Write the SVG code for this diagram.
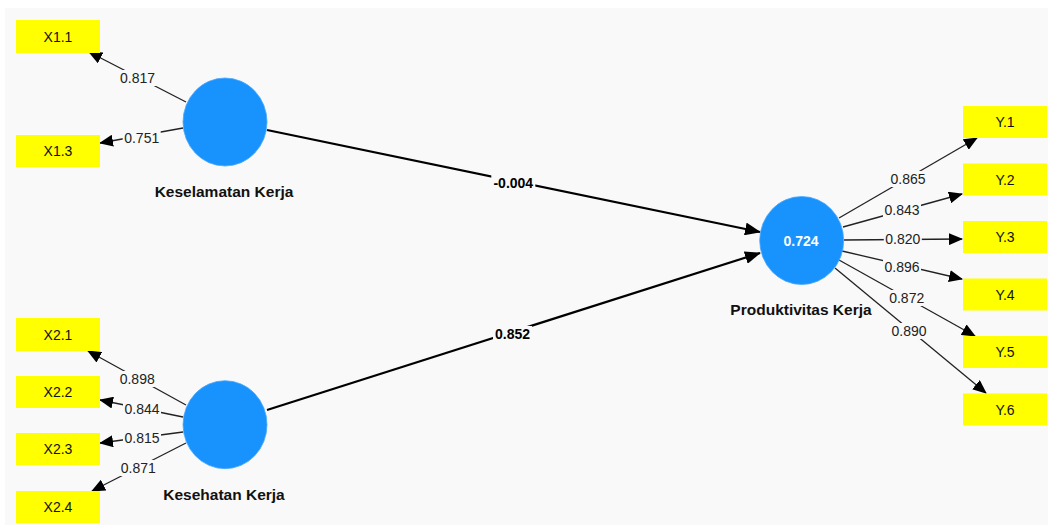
<svg xmlns="http://www.w3.org/2000/svg" width="1048" height="525" viewBox="0 0 1048 525">
<style>
.ind{fill:#ffff00}
.it{font-family:"Liberation Sans",Arial,sans-serif;font-size:14px;fill:#111;text-anchor:middle}
.lv{fill:#1892fc;stroke:#4aa8ff;stroke-width:0.8}
.ln{font-family:"Liberation Sans",Arial,sans-serif;font-size:15.5px;font-weight:bold;fill:#111;text-anchor:middle}
.r2{font-family:"Liberation Sans",Arial,sans-serif;font-size:14px;font-weight:bold;fill:#fff;text-anchor:middle}
.ld{stroke:#222;stroke-width:1.3;fill:none}
.pt{stroke:#000;stroke-width:2.2;fill:none}
.bg{fill:#f9f9f9}
.el{font-family:"Liberation Sans",Arial,sans-serif;font-size:14px;fill:#222;text-anchor:middle}
.eb{font-family:"Liberation Sans",Arial,sans-serif;font-size:14px;font-weight:bold;fill:#000;text-anchor:middle}
</style>
<defs>
<marker id="ah" viewBox="0 0 14 12" refX="13" refY="6" markerWidth="14" markerHeight="12" orient="auto" markerUnits="userSpaceOnUse"><path d="M0,0 L14,6 L0,12 z" fill="#000"/></marker>
<marker id="ahb" viewBox="0 0 16 13" refX="15" refY="6.5" markerWidth="16" markerHeight="13" orient="auto" markerUnits="userSpaceOnUse"><path d="M0,0 L16,6.5 L0,13 z" fill="#000"/></marker>
</defs>
<rect x="0" y="0" width="1048" height="525" fill="#ffffff"/>
<rect x="5" y="8" width="1043" height="517" fill="#f9f9f9"/>

<g id="connectors">
<line class="ld" x1="186" y1="102" x2="89" y2="52" marker-end="url(#ah)"/>
<line class="ld" x1="183" y1="128" x2="100" y2="143" marker-end="url(#ah)"/>
<line class="ld" x1="186" y1="405" x2="88" y2="351" marker-end="url(#ah)"/>
<line class="ld" x1="183" y1="417" x2="100" y2="400" marker-end="url(#ah)"/>
<line class="ld" x1="183" y1="432" x2="100" y2="443" marker-end="url(#ah)"/>
<line class="ld" x1="186" y1="443" x2="92" y2="491" marker-end="url(#ah)"/>
<line class="ld" x1="839" y1="218" x2="977" y2="138" marker-end="url(#ah)"/>
<line class="ld" x1="843" y1="227" x2="962" y2="194" marker-end="url(#ah)"/>
<line class="ld" x1="844" y1="240" x2="962" y2="239" marker-end="url(#ah)"/>
<line class="ld" x1="842" y1="251" x2="962" y2="279" marker-end="url(#ah)"/>
<line class="ld" x1="839" y1="260" x2="975" y2="336" marker-end="url(#ah)"/>
<line class="ld" x1="835" y1="268" x2="986" y2="393" marker-end="url(#ah)"/>
<line class="pt" x1="267" y1="130" x2="760" y2="232" marker-end="url(#ahb)"/>
<line class="pt" x1="267" y1="410" x2="760" y2="253" marker-end="url(#ahb)"/>
<rect class="bg" x="118.5" y="70" width="38" height="16"/><text class="el" x="137.5" y="82.5">0.817</text>
<rect class="bg" x="122.7" y="130" width="38" height="16"/><text class="el" x="141.7" y="142.5">0.751</text>
<rect class="bg" x="118.2" y="371" width="38" height="16"/><text class="el" x="137.2" y="383.5">0.898</text>
<rect class="bg" x="123" y="401.5" width="38" height="16"/><text class="el" x="142" y="414">0.844</text>
<rect class="bg" x="123" y="430" width="38" height="16"/><text class="el" x="142" y="442.5">0.815</text>
<rect class="bg" x="119.3" y="460" width="38" height="16"/><text class="el" x="138.3" y="472.5">0.871</text>
<rect class="bg" x="889" y="171" width="38" height="16"/><text class="el" x="908" y="183.5">0.865</text>
<rect class="bg" x="883" y="202.5" width="38" height="16"/><text class="el" x="902" y="215">0.843</text>
<rect class="bg" x="883.8" y="231.5" width="38" height="16"/><text class="el" x="902.8" y="244">0.820</text>
<rect class="bg" x="883" y="259" width="38" height="16"/><text class="el" x="902" y="271.5">0.896</text>
<rect class="bg" x="887.7" y="290" width="38" height="16"/><text class="el" x="906.7" y="302.5">0.872</text>
<rect class="bg" x="890" y="323" width="38" height="16"/><text class="el" x="909" y="335.5">0.890</text>
<rect class="bg" x="491.3" y="175" width="44" height="16"/><text class="eb" x="513.3" y="187.5">-0.004</text>
<rect class="bg" x="493" y="326" width="39" height="16"/><text class="eb" x="512.5" y="338.5">0.852</text>
</g>

<g id="X1.1"><rect class="ind" x="16" y="20" width="84" height="33"/><text class="it" x="58" y="41.5">X1.1</text></g>
<g id="X1.3"><rect class="ind" x="16" y="135" width="84" height="32"/><text class="it" x="58" y="156">X1.3</text></g>
<g id="X2.1"><rect class="ind" x="16" y="318" width="84" height="33"/><text class="it" x="58" y="339.5">X2.1</text></g>
<g id="X2.2"><rect class="ind" x="16" y="376" width="84" height="32"/><text class="it" x="58" y="397">X2.2</text></g>
<g id="X2.3"><rect class="ind" x="16" y="433" width="84" height="32"/><text class="it" x="58" y="454">X2.3</text></g>
<g id="X2.4"><rect class="ind" x="16" y="491" width="84" height="32"/><text class="it" x="58" y="512">X2.4</text></g>

<g id="Y.1"><rect class="ind" x="963" y="106" width="84" height="32"/><text class="it" x="1005" y="127">Y.1</text></g>
<g id="Y.2"><rect class="ind" x="963" y="163.5" width="84" height="32"/><text class="it" x="1005" y="184.5">Y.2</text></g>
<g id="Y.3"><rect class="ind" x="963" y="221" width="84" height="32"/><text class="it" x="1005" y="242">Y.3</text></g>
<g id="Y.4"><rect class="ind" x="963" y="278.5" width="84" height="32"/><text class="it" x="1005" y="299.5">Y.4</text></g>
<g id="Y.5"><rect class="ind" x="963" y="336" width="84" height="32"/><text class="it" x="1005" y="357">Y.5</text></g>
<g id="Y.6"><rect class="ind" x="963" y="393.5" width="84" height="32"/><text class="it" x="1005" y="414.5">Y.6</text></g>

<g id="Keselamatan_Kerja"><ellipse class="lv" cx="225" cy="122" rx="42" ry="44"/><text class="ln" x="224" y="196.5">Keselamatan Kerja</text></g>
<g id="Kesehatan_Kerja"><ellipse class="lv" cx="225" cy="424.7" rx="42" ry="44"/><text class="ln" x="224" y="500">Kesehatan Kerja</text></g>
<g id="Produktivitas_Kerja"><ellipse class="lv" cx="801.7" cy="240.5" rx="42" ry="44"/><text class="r2" x="801" y="246">0.724</text><text class="ln" x="801" y="315">Produktivitas Kerja</text></g>
</svg>
